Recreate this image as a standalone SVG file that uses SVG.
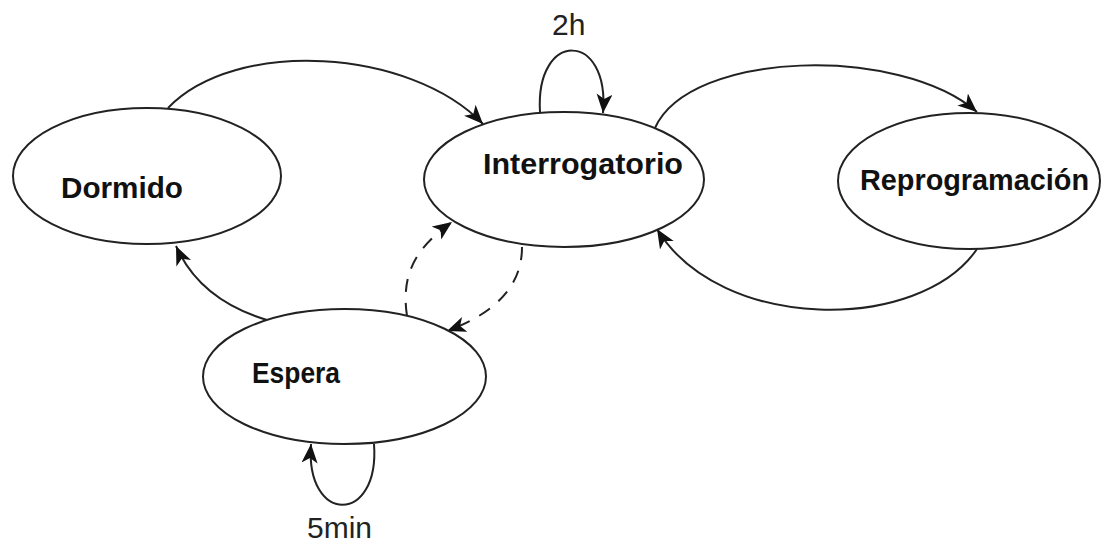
<svg xmlns="http://www.w3.org/2000/svg" width="1112" height="546" viewBox="0 0 1112 546">
<style>
.node ellipse{fill:#fff;stroke:#222;stroke-width:2}
.lbl{font-family:"Liberation Sans",Arial,sans-serif;font-weight:bold;font-size:29px;fill:#111}
.num{font-family:"Liberation Sans",Arial,sans-serif;font-size:30px;fill:#222}
.edge{fill:none;stroke:#222;stroke-width:2;marker-end:url(#arr)}
.dash{stroke-dasharray:13 11}
</style>
<defs>
<marker id="arr" markerUnits="userSpaceOnUse" markerWidth="22" markerHeight="18" refX="19" refY="8" orient="auto">
<path d="M0,0 L19,8 L0,16 L5,8 z" fill="#111"/>
</marker>
</defs>
<rect width="1112" height="546" fill="#fff"/>
<g id="connectors">
<path class="edge" d="M168,108 C235,38 410,48 483,124"/>
<path class="edge" d="M540,112 C535,30 610,30 603,113"/>
<path class="edge" d="M655,128 C690,50 900,45 977,112"/>
<path class="edge" d="M977,249 C920,333 720,333 657,229"/>
<path class="edge" d="M267,320 Q200,300 176,246"/>
<path class="edge dash" d="M407,316 C400,270 420,245 452,222"/>
<path class="edge dash" d="M522,247 C522,290 490,315 447,331"/>
<path class="edge" d="M374,444 C380,525 305,525 311,444"/>
</g>
<g id="dormido" class="node">
<ellipse cx="147" cy="176" rx="134" ry="68"/>
<text class="lbl" x="61" y="198" textLength="122" lengthAdjust="spacingAndGlyphs">Dormido</text>
</g>
<g id="interrogatorio" class="node">
<ellipse cx="564" cy="179.5" rx="140" ry="67.5"/>
<text class="lbl" x="483" y="174" textLength="200" lengthAdjust="spacingAndGlyphs">Interrogatorio</text>
</g>
<g id="reprogramacion" class="node">
<ellipse cx="969" cy="181" rx="131" ry="68"/>
<text class="lbl" x="860" y="190" textLength="229" lengthAdjust="spacingAndGlyphs">Reprogramación</text>
</g>
<g id="espera" class="node">
<ellipse cx="344.5" cy="376.5" rx="141.5" ry="67.5"/>
<text class="lbl" x="252" y="383" textLength="88" lengthAdjust="spacingAndGlyphs">Espera</text>
</g>
<text class="num" x="552" y="35">2h</text>
<text class="num" x="307" y="538">5min</text>
</svg>
